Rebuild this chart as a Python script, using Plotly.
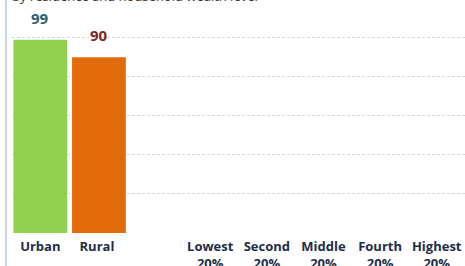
import plotly.graph_objects as go

categories = ["Urban", "Rural", " ", "Lowest<br>20%", "Second<br>20%", "Middle<br>20%", "Fourth<br>20%", "Highest<br>20%"]
bar_categories = ["Urban", "Rural"]
bar_values = [99, 90]
bar_colors = ["#92d050", "#e36c0a"]
label_colors = ["#2b5f75", "#7b2b22"]
title_text = "by residence and household wealth level"

W, H = 465, 266
ml, mr, mt, mb = 12, 0, 4, 33
pw = W - ml - mr
cat_px = pw / len(categories)
bar_w = 0.95
bar_offsets = [-bar_w / 2, -bar_w / 2 + 2 / cat_px]

fig = go.Figure()
fig.add_trace(go.Bar(
    x=bar_categories, y=bar_values,
    marker=dict(color=bar_colors, line=dict(width=0)),
    width=bar_w, offset=bar_offsets, hoverinfo="skip", showlegend=False,
))
fig.add_trace(go.Scatter(x=categories, y=[None] * len(categories), mode="markers",
                         showlegend=False, hoverinfo="skip"))

for i, (c, v, col) in enumerate(zip(bar_categories, bar_values, label_colors)):
    fig.add_annotation(x=c, y=v, xref="x", yref="y", text=str(v), showarrow=False,
                       yanchor="bottom", yshift=10, xshift=2 * i,
                       font=dict(family="Open Sans", size=15, color=col, weight="bold"))

fig.add_annotation(x=(10 - ml) / pw, y=1, xref="paper", yref="paper", text=title_text,
                   showarrow=False, xanchor="left", yanchor="bottom", yshift=-3,
                   font=dict(family="Open Sans", size=13, color="#333333"))

fig.add_shape(type="line", xref="paper", yref="paper",
              x0=(6 - ml) / pw, x1=(6 - ml) / pw, y0=-1, y1=2,
              line=dict(color="#c5d5ea", width=2))

fig.update_layout(
    width=W, height=H,
    margin=dict(l=ml, r=mr, t=mt, b=mb, autoexpand=False),
    paper_bgcolor="white", plot_bgcolor="white",
    bargap=0.05,
    xaxis=dict(categoryorder="array", categoryarray=categories, type="category",
               range=[-0.5, 7.5], showgrid=False, showline=False, zeroline=False,
               automargin=False, ticklabelstandoff=4,
               tickfont=dict(family="Open Sans", size=13, color="#1e2d48", weight="bold"),
               ticks="", ticklen=0),
    yaxis=dict(range=[0, 117.3], dtick=20, tick0=0, showticklabels=False, automargin=False,
               showgrid=True, gridcolor="#cbd9ec", griddash="3px,2px", gridwidth=1,
               zeroline=False, showline=False, ticks=""),
)

fig.write_html("out.html", config={"displayModeBar": False},
               post_script="document.body.style.margin='0';document.body.style.overflow='hidden';")
